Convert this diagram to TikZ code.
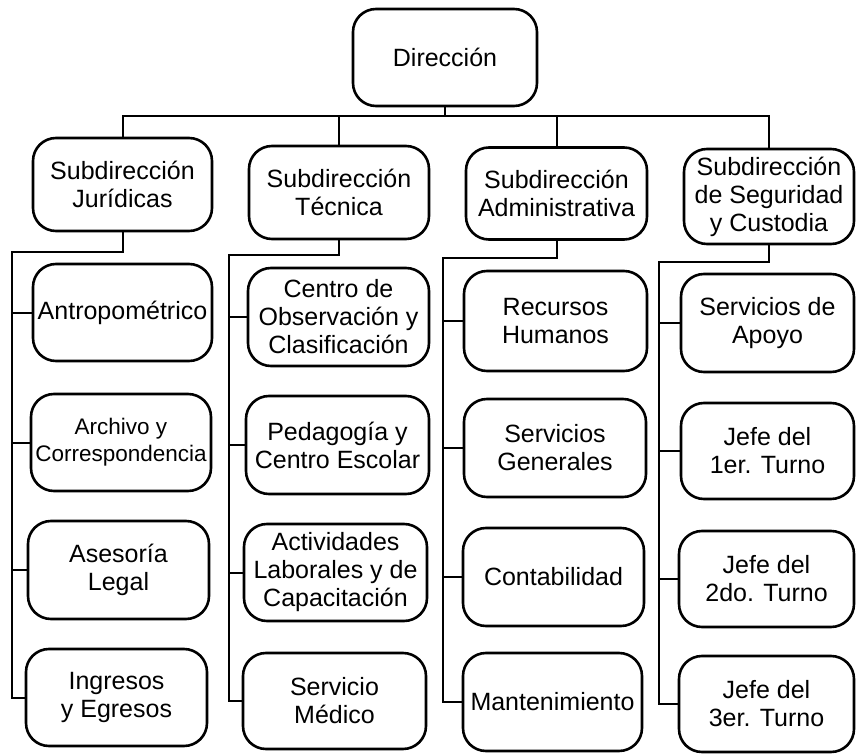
\documentclass[tikz,border=0pt]{standalone}
\usepackage{fontspec}
\setmainfont{Liberation Sans}
\begin{document}
\begin{tikzpicture}[x=1pt,y=-1pt,
  box/.style={draw=black, line width=2.6pt, rounded corners=23pt, align=center,
    inner sep=0pt, font=\fontsize{25}{28}\selectfont},
  conn/.style={draw=black, line width=2pt}]
\useasboundingbox (0,0) rectangle (857,754);
% top
\node[box, minimum width=184pt, minimum height=97pt] (dir) at (445,57.5) {Dirección};
% level 2
\node[box, minimum width=179pt, minimum height=93pt] (jur) at (122.5,184.5) {Subdirección\\Jurídicas};
\node[box, minimum width=180pt, minimum height=93pt] (tec) at (339,192.5) {Subdirección\\Técnica};
\node[box, minimum width=181pt, minimum height=92pt] (adm) at (556.5,193.5) {Subdirección\\Administrativa};
\node[box, minimum width=170pt, minimum height=95pt] (seg) at (769,196.5) {Subdirección\\de Seguridad\\y Custodia};
% column 1
\node[box, minimum width=179pt, minimum height=97pt] (c11) at (122.5,312.5) {Antropométrico};
\node[box, minimum width=180pt, minimum height=97pt, font=\fontsize{22.5}{27}\selectfont] (c12) at (121,442.5) {Archivo y\\Correspondencia};
\node[box, minimum width=181pt, minimum height=98pt] (c13) at (118.5,570) {Asesoría\\Legal};
\node[box, minimum width=181pt, minimum height=97pt] (c14) at (116.5,697.5) {Ingresos\\y Egresos};
% column 2
\node[box, minimum width=181pt, minimum height=98pt] (c21) at (338.5,317) {Centro de\\Observación y\\Clasificación};
\node[box, minimum width=183pt, minimum height=98pt] (c22) at (337.5,445) {Pedagogía y\\Centro Escolar};
\node[box, minimum width=183pt, minimum height=97pt] (c23) at (335.5,572.5) {Actividades\\Laborales y de\\Capacitación};
\node[box, minimum width=183pt, minimum height=96pt] (c24) at (334.5,701) {Servicio\\Médico};
% column 3
\node[box, minimum width=183pt, minimum height=100pt] (c31) at (555.5,321) {Recursos\\Humanos};
\node[box, minimum width=182pt, minimum height=98pt] (c32) at (555,448) {Servicios\\Generales};
\node[box, minimum width=181pt, minimum height=98pt] (c33) at (553.5,577) {Contabilidad};
\node[box, minimum width=179pt, minimum height=98pt] (c34) at (552.5,702) {Mantenimiento};
% column 4
\node[box, minimum width=173pt, minimum height=98pt] (c41) at (767.5,323) {Servicios de\\Apoyo};
\node[box, minimum width=173pt, minimum height=96pt] (c42) at (767.5,451) {Jefe del\\1er. Turno};
\node[box, minimum width=175pt, minimum height=96pt] (c43) at (766.5,579) {Jefe del\\2do. Turno};
\node[box, minimum width=175pt, minimum height=96pt] (c44) at (766.5,704) {Jefe del\\3er. Turno};
% bus from Dirección
\coordinate (bus) at (445,116);
\draw[conn] (dir.south) -- (bus);
\draw[conn] (jur.north) -- (jur.north |- bus) -- (seg.north |- bus) -- (seg.north);
\draw[conn] (tec.north) -- (tec.north |- bus);
\draw[conn] (adm.north) -- (adm.north |- bus);
% column spines
\coordinate (j0) at (12,252);
\coordinate (t0) at (229,255);
\coordinate (a0) at (443,258);
\coordinate (s0) at (659,262);
\draw[conn] (jur.south) |- (j0) |- (c14.west);
\draw[conn] (j0 |- c11.west) -- (c11.west);
\draw[conn] (j0 |- c12.west) -- (c12.west);
\draw[conn] (j0 |- c13.west) -- (c13.west);
\draw[conn] (tec.south) |- (t0) |- (c24.west);
\draw[conn] (t0 |- c21.west) -- (c21.west);
\draw[conn] (t0 |- c22.west) -- (c22.west);
\draw[conn] (t0 |- c23.west) -- (c23.west);
\draw[conn] (adm.south) |- (a0) |- (c34.west);
\draw[conn] (a0 |- c31.west) -- (c31.west);
\draw[conn] (a0 |- c32.west) -- (c32.west);
\draw[conn] (a0 |- c33.west) -- (c33.west);
\draw[conn] (seg.south) |- (s0) |- (c44.west);
\draw[conn] (s0 |- c41.west) -- (c41.west);
\draw[conn] (s0 |- c42.west) -- (c42.west);
\draw[conn] (s0 |- c43.west) -- (c43.west);
\end{tikzpicture}
\end{document}
